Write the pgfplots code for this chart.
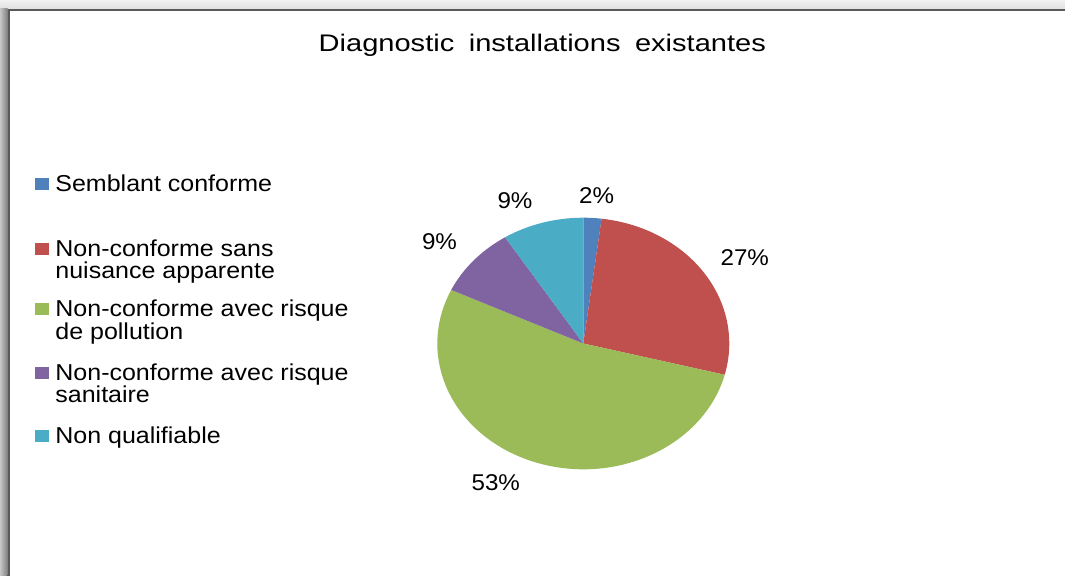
\documentclass[border=0pt]{standalone}
\usepackage{pgfplots}
\pgfplotsset{compat=1.18}
\usepackage{pgfplotstable}
\usepackage{graphicx}
\usepackage{fontspec}
\setmainfont{Liberation Sans}

\definecolor{sBlue}{HTML}{4F81BD}
\definecolor{sRed}{HTML}{C0504D}
\definecolor{sGreen}{HTML}{9BBB59}
\definecolor{sPurple}{HTML}{8064A2}
\definecolor{sTeal}{HTML}{4BACC6}
\definecolor{frameline}{HTML}{5A5A5A}

% shares of each diagnostic class, in percent
\pgfplotstableread[col sep=comma]{
category,share
Semblant conforme,2
Non-conforme sans nuisance apparente,27
Non-conforme avec risque de pollution,53
Non-conforme avec risque sanitaire,9
Non qualifiable,9
}\diagdata

% pie geometry (canvas units: 1 unit = 0.5pt)
\def\cx{583.3}
\def\cy{343.5}
\def\rx{146}
\def\ry{125.8}

% one wedge of the (slightly elliptical) pie, from angle #2 to #3, clockwise
\newcommand{\pieslice}[3]{%
  \fill[#1] (axis cs:\cx,\cy)
    -- (axis cs:{\cx+\rx*cos(#2)},{\cy-\ry*sin(#2)})
    arc[start angle=#2, end angle=#3, x radius=73pt, y radius=62.9pt]
    -- cycle;}

\newcommand{\legtext}[1]{{\fontsize{11.5}{13}\selectfont\scalebox{1.087}[1]{#1}}}
\newcommand{\pcttext}[1]{{\fontsize{11.4}{13}\selectfont\scalebox{1.06}[1]{#1}}}

\begin{document}
\begin{tikzpicture}
\pgfplotstablegetelem{0}{share}\of\diagdata \let\shA\pgfplotsretval
\pgfplotstablegetelem{1}{share}\of\diagdata \let\shB\pgfplotsretval
\pgfplotstablegetelem{2}{share}\of\diagdata \let\shC\pgfplotsretval
\pgfplotstablegetelem{3}{share}\of\diagdata \let\shD\pgfplotsretval
\pgfplotstablegetelem{4}{share}\of\diagdata \let\shE\pgfplotsretval
% cumulative angles, clockwise from twelve o'clock
\pgfmathsetmacro\angA{90}
\pgfmathsetmacro\angB{\angA-3.6*\shA}
\pgfmathsetmacro\angC{\angB-3.6*\shB}
\pgfmathsetmacro\angD{\angC-3.6*\shC}
\pgfmathsetmacro\angE{\angD-3.6*\shD}
\pgfmathsetmacro\angF{\angE-3.6*\shE}

\begin{axis}[
  scale only axis,
  width=532.5pt, height=288pt,
  xmin=0, xmax=1065, ymin=0, ymax=576,
  y dir=reverse,
  hide axis,
  clip=true,
]
% surroundings and chart frame
\fill[white] (axis cs:0,0) rectangle (axis cs:1065,576);
\fill[top color=black!5, bottom color=black!12] (axis cs:0,0) rectangle (axis cs:1065,9);
\fill[left color=black!22, right color=black!50] (axis cs:0,9) rectangle (axis cs:7.5,576);
\draw[frameline, line width=1pt] (axis cs:8.5,576) -- (axis cs:8.5,10) -- (axis cs:1065,10);

% title
\node[anchor=base, inner sep=0pt] at (axis cs:542.3,51.7)
  {{\fontsize{12}{14}\selectfont\scalebox{1.21}[1]{Diagnostic\hspace{0.5em}installations\hspace{0.5em}existantes}}};

% pie wedges
\pieslice{sBlue}{\angA}{\angB}
\pieslice{sRed}{\angB}{\angC}
\pieslice{sGreen}{\angC}{\angD}
\pieslice{sPurple}{\angD}{\angE}
\pieslice{sTeal}{\angE}{\angF}

% data labels
\node[anchor=base, inner sep=0pt] at (axis cs:596.7,204)   {\pcttext{\shA\%}};
\node[anchor=base, inner sep=0pt] at (axis cs:744.8,265.7) {\pcttext{\shB\%}};
\node[anchor=base, inner sep=0pt] at (axis cs:495.8,490.7) {\pcttext{\shC\%}};
\node[anchor=base, inner sep=0pt] at (axis cs:439.5,250)   {\pcttext{\shD\%}};
\node[anchor=base, inner sep=0pt] at (axis cs:515,208.3)   {\pcttext{\shE\%}};

% legend
\fill[sBlue]   (axis cs:35,178.2) rectangle (axis cs:49,190.2);
\fill[sRed]    (axis cs:35,243.2) rectangle (axis cs:49,255.2);
\fill[sGreen]  (axis cs:35,303.2) rectangle (axis cs:49,315.2);
\fill[sPurple] (axis cs:35,367.2) rectangle (axis cs:49,379.2);
\fill[sTeal]   (axis cs:35,429.8) rectangle (axis cs:49,441.8);

\node[anchor=base west, inner sep=0pt] at (axis cs:55,191.7) {\legtext{Semblant conforme}};
\node[anchor=base west, inner sep=0pt] at (axis cs:55,256.7) {\legtext{Non-conforme sans}};
\node[anchor=base west, inner sep=0pt] at (axis cs:55,278.3) {\legtext{nuisance apparente}};
\node[anchor=base west, inner sep=0pt] at (axis cs:55,316.7) {\legtext{Non-conforme avec risque}};
\node[anchor=base west, inner sep=0pt] at (axis cs:55,339.5) {\legtext{de pollution}};
\node[anchor=base west, inner sep=0pt] at (axis cs:55,380.7) {\legtext{Non-conforme avec risque}};
\node[anchor=base west, inner sep=0pt] at (axis cs:55,403)   {\legtext{sanitaire}};
\node[anchor=base west, inner sep=0pt] at (axis cs:55,443.3) {\legtext{Non qualifiable}};
\end{axis}
\end{tikzpicture}
\end{document}
